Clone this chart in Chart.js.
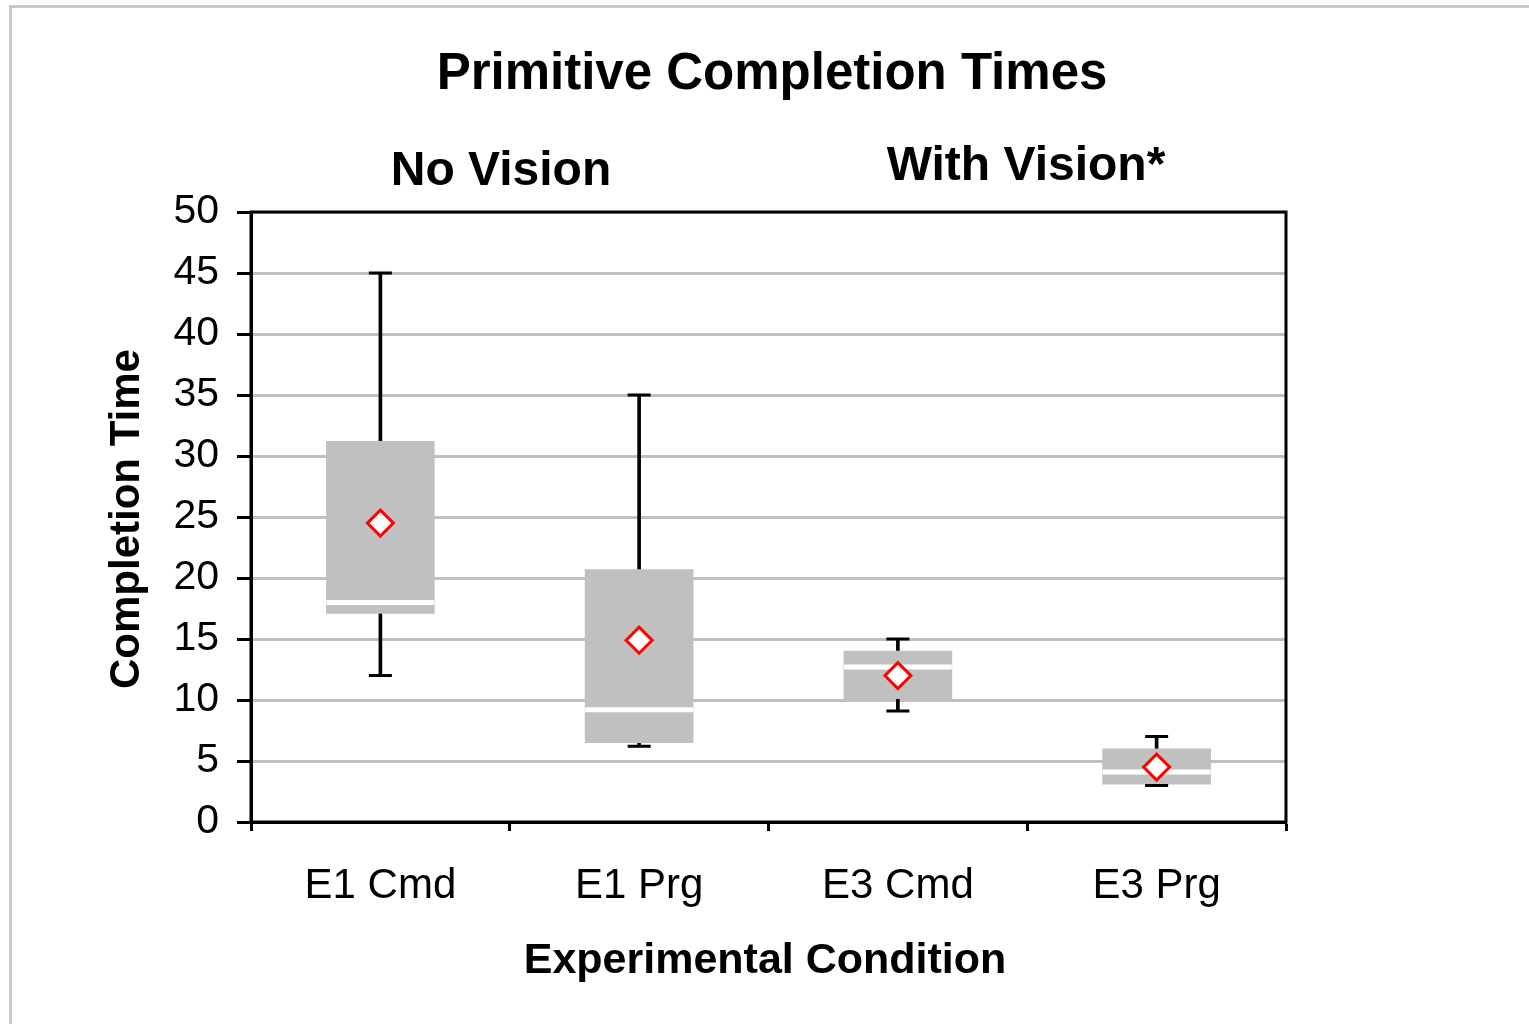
<!DOCTYPE html>
<html>
<head>
<meta charset="utf-8">
<script src="https://cdn.jsdelivr.net/npm/chart.js@4.4.0/dist/chart.umd.min.js"></script>
<style>
  html, body { margin: 0; padding: 0; background: #fff; }
</style>
</head>
<body>
<canvas id="boxChart" width="1529" height="1024"></canvas>
<script>
// data
const conditions = ['E1 Cmd', 'E1 Prg', 'E3 Cmd', 'E3 Prg'];
const whiskerLow = [12, 6.2, 9.1, 3.0];
const whiskerHigh = [45, 35, 15, 7];
const q1 = [17.1, 6.5, 10.1, 3.1];
const q3 = [31.2, 20.7, 14.0, 6.0];
const medians = [18.0, 9.2, 12.7, 4.1];
const means = [24.5, 14.9, 12.0, 4.5];

const FONT = "'Liberation Sans', Arial, sans-serif";

const whiskers = conditions.map((c, i) => [whiskerLow[i], whiskerHigh[i]]);
const boxes = conditions.map((c, i) => [q1[i], q3[i]]);

// titles, frame and the plot border
const decorations = {
  id: 'decorations',
  beforeDraw(chart) {
    const ctx = chart.ctx;
    ctx.save();
    ctx.strokeStyle = '#c8c8c8';
    ctx.lineWidth = 3;
    ctx.strokeRect(10.5, 6.5, 1600, 1100);
    ctx.restore();
  },
  afterDraw(chart) {
    const ctx = chart.ctx;
    const a = chart.chartArea;
    ctx.save();
    ctx.strokeStyle = '#000';
    ctx.lineWidth = 3;
    ctx.strokeRect(a.left, a.top, a.right - a.left, a.bottom - a.top);

    ctx.fillStyle = '#000';
    ctx.textAlign = 'center';
    ctx.textBaseline = 'middle';
    ctx.font = 'bold 51px ' + FONT;
    ctx.fillText('Primitive Completion Times', 772, 75);
    ctx.font = 'bold 48px ' + FONT;
    ctx.fillText('No Vision', 501, 172);
    ctx.fillText('With Vision*', 1026, 167);
    ctx.font = 'bold 43px ' + FONT;
    ctx.fillText('Experimental Condition', 765, 961);

    ctx.translate(127, 519);
    ctx.rotate(-Math.PI / 2);
    ctx.font = 'bold 42px ' + FONT;
    ctx.fillText('Completion Time', 0, 0);
    ctx.restore();
  }
};

new Chart(document.getElementById('boxChart'), {
  type: 'bar',
  data: {
    labels: conditions,
    datasets: [
      {
        label: 'Range',
        data: whiskers,
        backgroundColor: '#000',
        barThickness: 3,
        grouped: false,
        order: 5
      },
      {
        label: 'Quartiles',
        data: boxes,
        backgroundColor: '#c0c0c0',
        barThickness: 108,
        grouped: false,
        order: 4
      },
      {
        type: 'line',
        label: 'Median',
        data: medians,
        showLine: false,
        pointStyle: 'line',
        pointRadius: 54,
        pointBorderWidth: 5,
        pointBorderColor: '#fff',
        order: 3
      },
      {
        type: 'line',
        label: 'Max',
        data: whiskerHigh,
        showLine: false,
        pointStyle: 'line',
        pointRadius: 11.5,
        pointBorderWidth: 3,
        pointBorderColor: '#000',
        order: 2
      },
      {
        type: 'line',
        label: 'Min',
        data: whiskerLow,
        showLine: false,
        pointStyle: 'line',
        pointRadius: 11.5,
        pointBorderWidth: 3,
        pointBorderColor: '#000',
        order: 2
      },
      {
        type: 'line',
        label: 'Mean',
        data: means,
        showLine: false,
        pointStyle: 'rectRot',
        pointRadius: 13,
        pointBorderWidth: 3,
        pointBorderColor: '#ff0000',
        pointBackgroundColor: '#fff',
        order: 1
      }
    ]
  },
  options: {
    responsive: false,
    devicePixelRatio: 1,
    animation: false,
    layout: { padding: { left: 0, top: 212, right: 243, bottom: 0 } },
    plugins: {
      legend: { display: false },
      tooltip: { enabled: false }
    },
    scales: {
      x: {
        offset: true,
        grid: {
          offset: true,
          drawOnChartArea: false,
          drawTicks: true,
          tickLength: 9,
          tickColor: '#000',
          tickWidth: 3
        },
        border: { color: '#000', width: 3 },
        ticks: {
          color: '#000',
          font: { family: FONT, size: 42 },
          padding: 30,
          maxRotation: 0
        },
        afterFit(scale) { scale.height = 202; }
      },
      y: {
        min: 0,
        max: 50,
        grid: {
          color: '#c0c0c0',
          lineWidth: 3,
          tickColor: '#000',
          tickWidth: 3,
          tickLength: 14
        },
        border: { color: '#000', width: 3 },
        ticks: {
          stepSize: 5,
          color: '#000',
          font: { family: FONT, size: 41 },
          padding: 18
        },
        afterFit(scale) { scale.width = 251; }
      }
    }
  },
  plugins: [decorations]
});
</script>
</body>
</html>
